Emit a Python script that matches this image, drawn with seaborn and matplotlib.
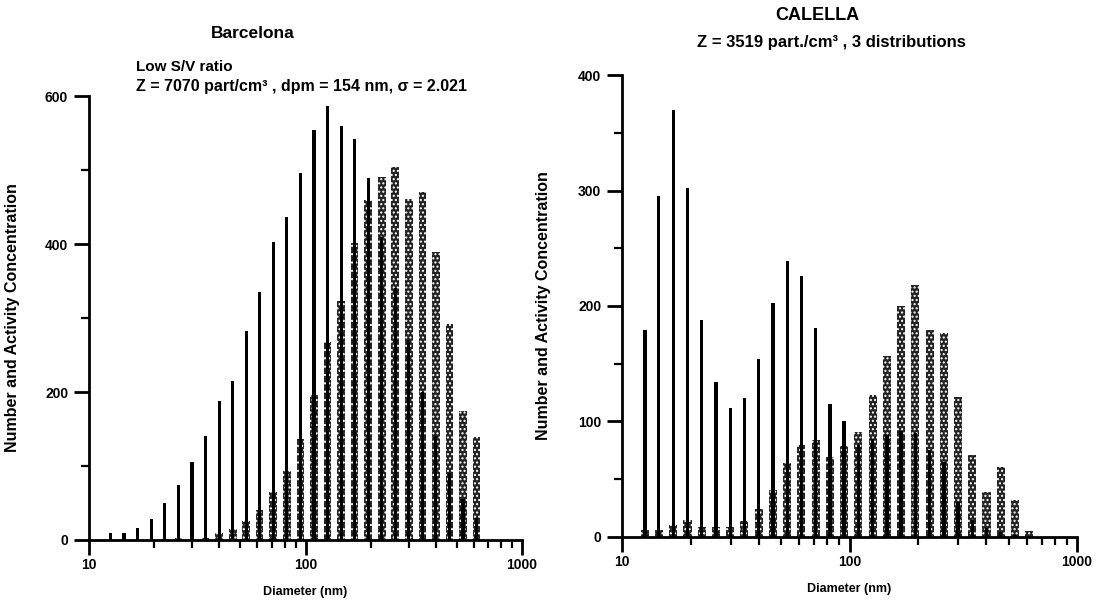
import numpy as np
import matplotlib
matplotlib.use("Agg")
import matplotlib.pyplot as plt
from matplotlib.ticker import LogLocator, MultipleLocator, NullFormatter
import seaborn as sns

# Size channels (nm), 16 per decade
diameter_nm = [12.6, 14.5, 16.8, 19.4, 22.4, 25.9, 29.9, 34.5, 39.9, 46.1,
               53.2, 61.4, 71.0, 82.0, 94.7, 109.4, 126.4, 146.0, 168.6, 194.7,
               224.9, 259.8, 300.0, 346.6, 400.0, 462.0, 533.6, 616.3]

# Barcelona: number (thin black) and activity (dotted bars) concentrations
barcelona_number = [10, 9, 16, 28, 50, 75, 106, 141, 188, 215,
                    283, 335, 403, 437, 496, 554, 586, 559, 542, 489,
                    410, 340, 270, 200, 140, 90, 55, 30]
barcelona_activity = [0, 0, 0, 0, 1, 3, 2, 3, 10, 15,
                      26, 41, 65, 93, 136, 196, 267, 323, 402, 459,
                      491, 504, 461, 470, 389, 292, 174, 139]

# Calella: three-mode distribution
calella_number = [179, 295, 370, 302, 188, 134, 112, 120, 154, 203,
                  239, 226, 181, 115, 100, 80, 85, 88, 92, 90,
                  75, 65, 30, 15, 8, 4, 2, 1]
calella_activity = [6, 6, 10, 15, 9, 9, 9, 14, 24, 41,
                    64, 80, 84, 69, 79, 91, 123, 157, 200, 218,
                    179, 177, 121, 71, 39, 61, 32, 5]

x_ticks = [10, 100, 1000]
x_tick_labels = ["10", "100", "1000"]
left_y_ticks = [0, 200, 400, 600]
right_y_ticks = [0, 100, 200, 300, 400]

sns.set_style("ticks")
plt.rcParams["font.family"] = ["Liberation Sans", "DejaVu Sans"]
plt.rcParams["font.weight"] = "bold"
plt.rcParams["hatch.linewidth"] = 1.0
for key in ("text.color", "axes.labelcolor", "xtick.color", "ytick.color",
            "axes.edgecolor"):
    plt.rcParams[key] = "black"

fig = plt.figure(figsize=(10.99, 6.01), dpi=100)
ax_l = fig.add_axes([0.081, 0.1015, 0.394, 0.7387])
ax_r = fig.add_axes([0.566, 0.1065, 0.414, 0.7687])


def draw_panel(ax, number, activity, ylim, yticks, minor_step, label_xy):
    # dotted activity bars
    sns.barplot(x=diameter_nm, y=activity, native_scale=True, log_scale=(True, False),
                width=0.58, facecolor="#222222", edgecolor="white", linewidth=0,
                hatch="....", errorbar=None, ax=ax, zorder=2)
    # thin number-concentration lines drawn on top
    sns.barplot(x=diameter_nm, y=number, native_scale=True, log_scale=(True, False),
                width=0.24, facecolor="black", edgecolor="black", linewidth=0,
                errorbar=None, ax=ax, zorder=3)
    ax.set_xscale("log")
    ax.set_xlim(10, 1000)
    ax.set_ylim(*ylim)
    ax.set_xticks(x_ticks, labels=x_tick_labels)
    ax.xaxis.set_minor_locator(LogLocator(base=10, subs=np.arange(2, 10)))
    ax.xaxis.set_minor_formatter(NullFormatter())
    ax.set_yticks(yticks, labels=[str(v) for v in yticks])
    ax.yaxis.set_minor_locator(MultipleLocator(minor_step))
    ax.tick_params(axis="x", which="major", direction="out", length=11, width=2,
                   labelsize=10, pad=2)
    ax.tick_params(axis="x", which="minor", direction="out", length=6, width=1.6)
    ax.tick_params(axis="y", which="major", direction="out", length=11, width=2,
                   labelsize=10, pad=4)
    ax.tick_params(axis="y", which="minor", direction="out", length=6, width=1.6)
    for lab in ax.get_xticklabels() + ax.get_yticklabels():
        lab.set_fontweight("bold")
    sns.despine(ax=ax)
    for side in ("left", "bottom"):
        ax.spines[side].set_linewidth(2)
        ax.spines[side].set_color("black")
    ax.set_xlabel("Diameter (nm)", fontsize=9, fontweight="bold", labelpad=10)
    ax.set_ylabel("Number and Activity Concentration", fontsize=11.5,
                  fontweight="bold")
    ax.yaxis.set_label_coords(*label_xy)
    ax.grid(False)


draw_panel(ax_l, barcelona_number, barcelona_activity, (0, 600), left_y_ticks, 100,
           (-0.159, 0.5))
draw_panel(ax_r, calella_number, calella_activity, (0, 400), right_y_ticks, 50,
           (-0.156, 0.5))

W, H = 1099, 601
fig.text(253 / W, 1 - 33 / H, "Barcelona", ha="center", va="center",
         fontsize=12.5, fontweight="bold")
fig.text(136 / W, 1 - 67 / H, "Low S/V ratio", ha="left", va="center",
         fontsize=11, fontweight="bold")
fig.text(136 / W, 1 - 87 / H, "Z = 7070 part/cm³ , dpm = 154 nm, σ = 2.021",
         ha="left", va="center", fontsize=11.5, fontweight="bold")
fig.text(817 / W, 1 - 15 / H, "CALELLA", ha="center", va="center",
         fontsize=13, fontweight="bold")
fig.text(831 / W, 1 - 43 / H, "Z = 3519 part./cm³ , 3 distributions",
         ha="center", va="center", fontsize=12, fontweight="bold")

fig.savefig("out.png", dpi=100, facecolor="white")
